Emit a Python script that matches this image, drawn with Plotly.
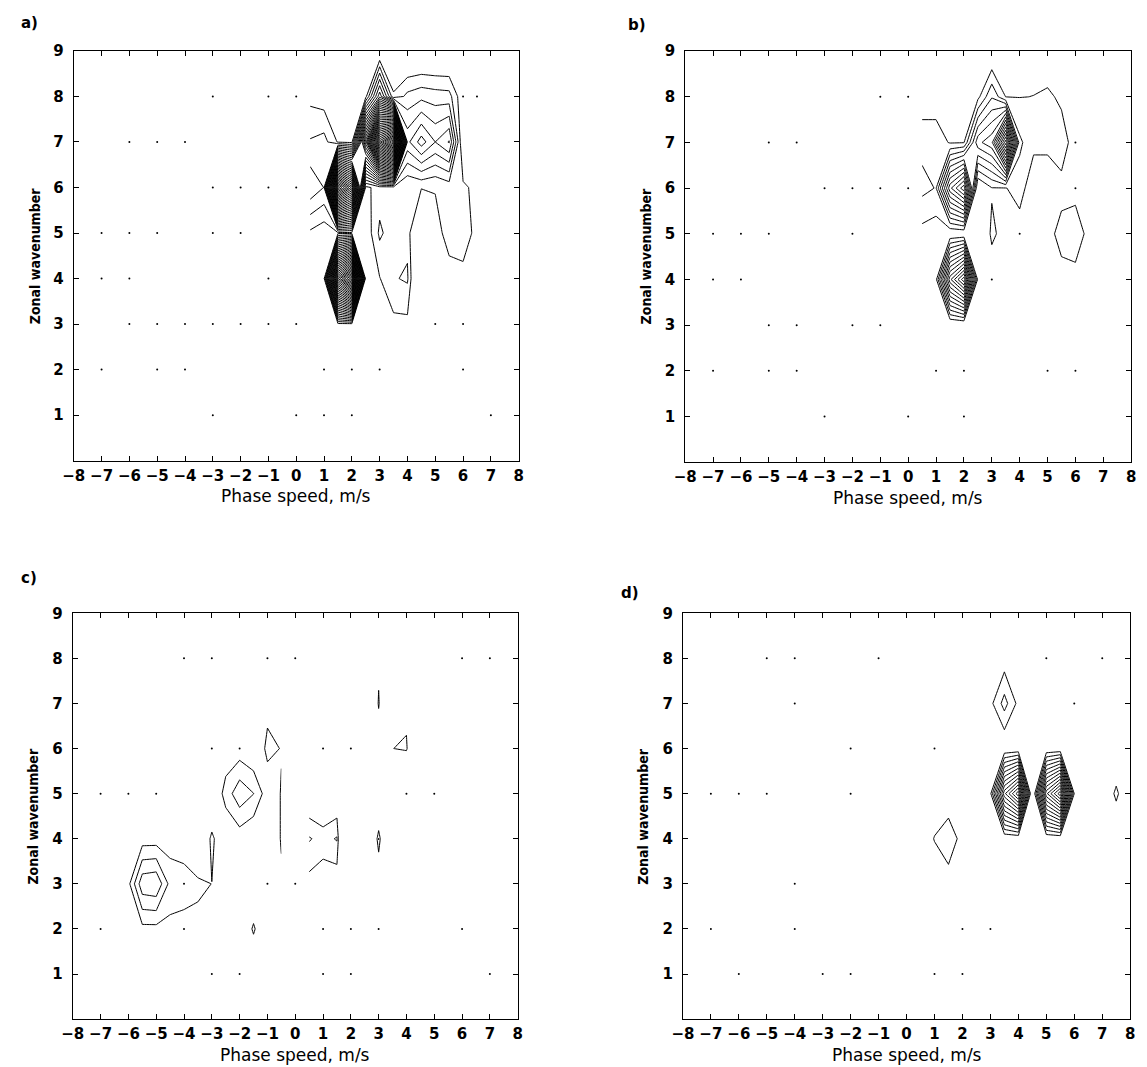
import numpy as np
import plotly.graph_objects as go

W, H = 1147, 1067

# Grid of the analysis: phase speed (m/s) split at c = 0, zonal wavenumber 1..9
SPEEDS_WEST = [-8.0 + 0.5 * i for i in range(16)]      # -8 .. -0.5
SPEEDS_EAST = [0.5 + 0.5 * i for i in range(16)]       # 0.5 .. 8
WAVENUMBERS = list(range(1, 10))

X_TICKS = list(range(-8, 9))
Y_TICKS = list(range(1, 10))

# Spectral power at grid nodes (speed, wavenumber, value); unlisted nodes are zero
A_POWER = [
    (0.5, 5, 0.1), (0.5, 6, 3.07), (0.5, 7, 1.4), (0.5, 8, 0.0),
    (1, 5, -0.35), (1, 6, 2.27), (1, 7, 1.7), (1, 8, -0.3),
    (1.5, 4, 24), (1.5, 5, 0.0), (1.5, 6, 30), (1.5, 7, 0.2),
    (2, 4, 32), (2, 5, 0.0), (2, 6, 24), (2, 7, 0.0),
    (2.5, 4, -0.5), (2.5, 5, -0.5), (2.5, 6, 0.0), (2.5, 7, 14), (2.5, 8, 0.0),
    (3, 4, 0.25), (3, 5, 1.5), (3, 6, 0.8), (3, 7, 30), (3, 8, 6), (3, 9, -1.2),
    (3.5, 4, 1.2), (3.5, 5, 0.73), (3.5, 6, 0.8), (3.5, 7, 36), (3.5, 8, 0.5), (3.5, 9, -1.5),
    (4, 4, 1.45), (4, 5, 1.0), (4, 6, 0.35), (4, 7, 4.0), (4, 8, 1.6), (4, 9, -1.5),
    (4.5, 4, -3), (4.5, 5, -3), (4.5, 6, 0.4), (4.5, 7, 5.8), (4.5, 8, 2.0), (4.5, 9, -1.5),
    (5, 6, 0.35), (5, 7, 4.3), (5, 8, 1.8), (5, 9, -1.5),
    (5.5, 5, 0.6), (5.5, 6, 0.7), (5.5, 7, 5.4), (5.5, 8, 1.7), (5.5, 9, -1.5),
    (6, 5, 0.8), (6, 6, 0.5), (6, 7, -0.97), (6, 8, -0.6),
]
B_POWER = [
    (0.5, 5, -0.07), (0.5, 6, 1.6), (0.5, 7, 1.0), (0.5, 8, -0.4),
    (1, 5, -0.3), (1, 6, 1.25), (1, 7, 0.9), (1, 8, -0.3),
    (1.5, 3, -1), (1.5, 4, 9), (1.5, 5, -0.7), (1.5, 6, 8), (1.5, 7, 0.2),
    (2, 3, -1), (2, 4, 13), (2, 5, -0.7), (2, 6, 11), (2, 7, 0.25),
    (2.5, 5, -0.4), (2.5, 6, -1), (2.5, 7, 5), (2.5, 8, 0.0),
    (3, 4, -0.02), (3, 5, 0.4), (3, 6, 0.25), (3, 7, 6), (3, 8, 2.2), (3, 9, -1),
    (3.5, 5, 0.1), (3.5, 6, 0.25), (3.5, 7, 14), (3.5, 8, 0.28),
    (4, 5, -0.3), (4, 6, 0.8), (4, 7, 1.5), (4, 8, 0.28),
    (4.5, 6, -0.5), (4.5, 7, 0.6), (4.5, 8, 0.31),
    (5, 6, -0.5), (5, 7, 0.6), (5, 8, 0.5), (5, 9, -0.5),
    (5.5, 5, 0.6), (5.5, 7, 0.8), (5.5, 8, 0.1),
    (6, 5, 0.8), (6, 7, -0.2), (6, 8, -0.3),
]
C_POWER = [
    (-5.5, 3, 3.0), (-5, 3, 3.2), (-4.5, 3, 0.95), (-4, 3, 0.7), (-3.5, 3, 0.5),
    (-3, 3, 0.29), (-2.5, 3, -1),
    (-5.5, 4, -0.2), (-5, 4, -0.2), (-4.5, 4, -0.2), (-4, 4, -0.2), (-3.5, 4, -1),
    (-3, 4, 0.5), (-2.5, 4, -0.6), (-3, 5, -0.84),
    (-2.5, 5, 0.7), (-2, 5, 2.0), (-1.5, 5, 1.32), (-1, 5, -0.3),
    (-2, 4, -0.3), (-1.5, 4, -0.7), (-1, 4, -0.3),
    (-2.5, 6, -0.35), (-2, 6, -0.3), (-1.5, 6, -0.7), (-1, 6, 0.55), (-0.5, 6, 0.26),
    (-0.5, 3, 0.2), (-0.5, 4, 0.35), (-0.5, 5, 0.35),
    (-1.5, 1, -1.2), (-1.5, 2, 0.5), (-1.5, 3, -1.2), (-2, 2, -1.2), (-1, 2, -1.2),
    (0.5, 3, -0.1), (0.5, 4, 1.4), (0.5, 5, -1.0),
    (1, 3, -0.43), (1, 4, 0.9), (1, 5, -1.4),
    (1.5, 3, -0.53), (1.5, 4, 1.4), (1.5, 5, -1.0),
    (2, 4, -9.6), (2.5, 4, -8), (3, 3, -2.3), (3, 4, 1.4), (3, 5, -4.7), (3.5, 4, -8),
    (2.5, 7, -5), (3, 6, -1.3), (3, 7, 0.5), (3, 8, -0.19), (3.5, 7, -5),
    (3.5, 6, 0.25), (4, 5, -10), (4, 6, 0.8), (4, 7, -0.9), (4.5, 6, -10),
]
D_POWER = [
    (1, 4, 0.32), (1.5, 3, -0.08), (1.5, 4, 0.8), (1.5, 5, -0.29),
    (3.5, 4, -0.7), (3.5, 5, 9), (3.5, 6, -0.7),
    (4, 4, -0.7), (4, 5, 13), (4, 6, -0.7), (4.5, 5, -1.7),
    (5, 4, -0.7), (5, 5, 10), (5, 6, -0.7),
    (5.5, 4, -0.7), (5.5, 5, 14), (5.5, 6, -0.7), (6, 5, 0.28),
    (3.5, 7, 1.7), (3.5, 8, -0.3), (7.5, 5, 0.36),
]

# Isolated nodes sitting right on the lowest contour level (drawn as specks)
A_SPECK_SPEED = [-3, -1, 0, 6, 6.5, -6, -5, -4, -3, -2, -1, 0, -7, -6, -5, -3, -2,
                 -7, -6, -1, -6, -5, -4, -3, -2, -1, 0, 5, 6, -7, -5, -4, 1, 2, 3, 6,
                 -3, 0, 1, 2, 7]
A_SPECK_WAVE = [8, 8, 8, 8, 8, 7, 7, 7, 6, 6, 6, 6, 5, 5, 5, 5, 5,
                4, 4, 4, 3, 3, 3, 3, 3, 3, 3, 3, 3, 2, 2, 2, 2, 2, 2, 2,
                1, 1, 1, 1, 1]
B_SPECK_SPEED = [-1, 0, -5, -4, 6, -3, -2, -1, 0, 6, -7, -6, -5, -2, 4, -7, -6, 3,
                 -5, -4, -2, -1, -7, -5, -4, 1, 2, 5, 6, -3, 0, 2]
B_SPECK_WAVE = [8, 8, 7, 7, 7, 6, 6, 6, 6, 6, 5, 5, 5, 5, 5, 4, 4, 4,
                3, 3, 3, 3, 2, 2, 2, 2, 2, 2, 2, 1, 1, 1]
C_SPECK_SPEED = [-4, -3, -1, 0, 6, 7, -3, -2, 1, 2, -7, -6, -5, 4, 5, -4, -1, 0,
                 -7, -4, 1, 2, 3, 6, -3, -2, 1, 2, 7]
C_SPECK_WAVE = [8, 8, 8, 8, 8, 8, 6, 6, 6, 6, 5, 5, 5, 5, 5, 3, 3, 3,
                2, 2, 2, 2, 2, 2, 1, 1, 1, 1, 1]
D_SPECK_SPEED = [-5, -4, -1, 5, 7, -4, 6, -2, 1, -7, -6, -5, -2, -4,
                 -7, -4, 2, 3, -6, -3, -2, 1, 2]
D_SPECK_WAVE = [8, 8, 8, 8, 8, 7, 7, 6, 6, 5, 5, 5, 5, 3,
                2, 2, 2, 2, 1, 1, 1, 1, 1]

PANELS = [
    ("a)", A_POWER, A_SPECK_SPEED, A_SPECK_WAVE),
    ("b)", B_POWER, B_SPECK_SPEED, B_SPECK_WAVE),
    ("c)", C_POWER, C_SPECK_SPEED, C_SPECK_WAVE),
    ("d)", D_POWER, D_SPECK_SPEED, D_SPECK_WAVE),
]

# Plot boxes in pixels: left, right, top, bottom
BOXES = [
    (62.7, 514.3, 42.3, 455.5),
    (683.3, 1136.0, 42.5, 457.0),
    (61.7, 513.3, 609.4, 1018.7),
    (681.0, 1135.0, 609.4, 1018.7),
]
LABEL_POS = [(7, 14), (623, 16), (7, 574), (616, 589)]

TICK_FONT = dict(family="DejaVu Sans", size=15, color="black", weight="bold")
TITLE_FONT = dict(family="DejaVu Sans", size=17, color="black")
YTITLE_FONT = dict(family="DejaVu Sans Condensed, DejaVu Sans", size=14,
                   color="black", weight="bold")


def grid(points, speeds):
    z = np.zeros((len(WAVENUMBERS), len(speeds)))
    for c, k, v in points:
        if c in speeds:
            z[WAVENUMBERS.index(k), speeds.index(c)] = v
    return z


def fx(px):
    return px / W


def fy(py):
    return 1 - py / H


fig = go.Figure()
layout = dict(
    width=W, height=H, margin=dict(l=0, r=0, t=0, b=0),
    paper_bgcolor="white", plot_bgcolor="white", showlegend=False,
)
annotations = []

for i, (label, power, sp_x, sp_y) in enumerate(PANELS):
    n = "" if i == 0 else str(i + 1)
    xa, ya = "x" + n, "y" + n
    left, right, top, bottom = BOXES[i]

    for speeds in (SPEEDS_WEST, SPEEDS_EAST):
        fig.add_trace(go.Contour(
            x=speeds, y=WAVENUMBERS, z=grid(power, speeds),
            autocontour=False,
            contours=dict(start=0.3, end=60.3, size=1, coloring="none"),
            line=dict(color="black", width=1, smoothing=0),
            showscale=False, hoverinfo="skip", xaxis=xa, yaxis=ya,
        ))
    fig.add_trace(go.Scatter(
        x=sp_x, y=sp_y, mode="markers",
        marker=dict(size=2, color="black", line=dict(width=0)),
        hoverinfo="skip", xaxis=xa, yaxis=ya,
    ))

    common = dict(
        ticks="inside", ticklen=5, tickwidth=1, tickcolor="black",
        showline=True, linecolor="black", linewidth=1, mirror="ticks",
        showgrid=False, zeroline=False, tickfont=TICK_FONT,
    )
    layout["xaxis" + n] = dict(
        domain=[fx(left), fx(right)], range=[-8, 8], tickvals=X_TICKS,
        anchor=ya, ticklabelstandoff=1, **common,
    )
    layout["yaxis" + n] = dict(
        domain=[fy(bottom), fy(top)], range=[0, 9], tickvals=Y_TICKS,
        anchor=xa, ticklabelstandoff=6, **common,
    )

    lx, ly = LABEL_POS[i]
    annotations.append(dict(
        text=label, x=fx(lx), y=fy(ly), xref="paper", yref="paper",
        xanchor="left", yanchor="middle", showarrow=False,
        font=dict(family="DejaVu Sans", size=15, color="black", weight="bold"),
    ))
    annotations.append(dict(
        text="Zonal wavenumber", x=fx(left - 40), y=fy((top + bottom) / 2),
        xref="paper", yref="paper", xanchor="center", yanchor="middle",
        textangle=-90, showarrow=False, font=YTITLE_FONT,
    ))
    annotations.append(dict(
        text="Phase speed, m/s", x=fx((left + right) / 2), y=fy(bottom + 36),
        xref="paper", yref="paper", xanchor="center", yanchor="middle",
        showarrow=False, font=TITLE_FONT,
    ))

layout["annotations"] = annotations
fig.update_layout(**layout)
fig.write_html("out.html")
